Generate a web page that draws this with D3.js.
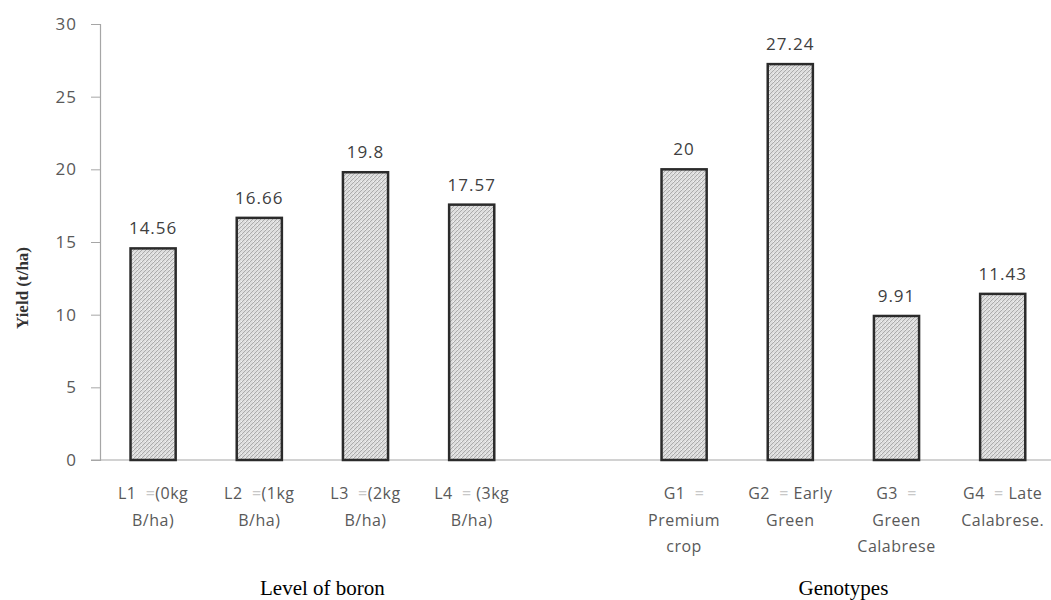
<!DOCTYPE html>
<html>
<head>
<meta charset="utf-8">
<script src="https://cdn.jsdelivr.net/npm/d3@7"></script>
<style>
html,body{margin:0;padding:0;background:#fff;}
</style>
</head>
<body>
<svg id="chart" width="1051" height="600"></svg>
<script>
// ---- data ----
const categories = ["L1", "L2", "L3", "L4", "gap", "G1", "G2", "G3", "G4"];
const values = [14.56, 16.66, 19.8, 17.57, null, 20, 27.24, 9.91, 11.43];
const valueLabels = ["14.56", "16.66", "19.8", "17.57", "", "20", "27.24", "9.91", "11.43"];
const categoryLabels = [
  [["L1  ", "=", "(0kg"], ["B/ha)"]],
  [["L2  ", "=", "(1kg"], ["B/ha)"]],
  [["L3  ", "=", "(2kg"], ["B/ha)"]],
  [["L4  ", "=", " (3kg"], ["B/ha)"]],
  [],
  [["G1  ", "=", ""], ["Premium"], ["crop"]],
  [["G2  ", "=", " Early"], ["Green"]],
  [["G3  ", "=", ""], ["Green"], ["Calabrese"]],
  [["G4  ", "=", " Late"], ["Calabrese."]]
];
const yTicks = [0, 5, 10, 15, 20, 25, 30];
const groupTitles = ["Level of boron", "Genotypes"];
const groupMembers = [["L1", "L2", "L3", "L4"], ["G1", "G2", "G3", "G4"]];
const yTitle = "Yield (t/ha)";

// ---- layout ----
const svg = d3.select("#chart");
const margin = {left: 100, right: 0, top: 24, bottom: 140};
const W = 1051, H = 600;
const x = d3.scaleBand().domain(categories.concat(["end"]))
  .range([margin.left, margin.left + 106.2 * 10]).paddingInner(0.575).paddingOuter(0.2875);
const y = d3.scaleLinear().domain([0, 30]).range([460, 24]);
const sans = "'Open Sans', sans-serif";

// pattern
const defs = svg.append("defs");
const pat = defs.append("pattern").attr("id", "hatch").attr("patternUnits", "userSpaceOnUse")
  .attr("width", 4).attr("height", 4);
pat.append("rect").attr("width", 4).attr("height", 4).attr("fill", "#dedede");
pat.append("path").attr("d", "M-1,1 l2,-2 M0,4 l4,-4 M3,5 l2,-2")
  .attr("stroke", "#ababab").attr("stroke-width", 1);
pat.append("rect").attr("x", 1).attr("y", 1).attr("width", 1).attr("height", 1).attr("fill", "#f4f4f4");

// y axis
const yAxis = svg.append("g").attr("transform", `translate(${margin.left},0)`)
  .call(d3.axisLeft(y).tickValues(yTicks).tickSize(9).tickPadding(14));
yAxis.select(".domain").attr("stroke", "#a6a6a6").attr("stroke-width", 1.2);
yAxis.selectAll(".tick line").attr("stroke", "#a6a6a6");
yAxis.selectAll(".tick text").attr("fill", "#595959")
  .style("font-family", sans).style("font-size", "17px").style("letter-spacing", "1px");

// x axis line
svg.append("line").attr("x1", margin.left - 9).attr("x2", W).attr("y1", y(0)).attr("y2", y(0))
  .attr("stroke", "#a6a6a6").attr("stroke-width", 1.2);

// bars
const data = categories.map((c, i) => ({c, v: values[i], lab: valueLabels[i]})).filter(d => d.v !== null);
svg.append("g").selectAll("rect").data(data).join("rect")
  .attr("x", d => x(d.c)).attr("width", x.bandwidth())
  .attr("y", d => y(d.v)).attr("height", d => y(0) - y(d.v))
  .attr("fill", "url(#hatch)").attr("stroke", "#2b2b2b").attr("stroke-width", 2.5);

// value labels
svg.append("g").selectAll("text").data(data).join("text")
  .attr("x", d => x(d.c) + x.bandwidth() / 2).attr("y", d => y(d.v) - 14)
  .attr("text-anchor", "middle").attr("fill", "#404040")
  .style("font-family", sans).style("font-size", "17px").style("letter-spacing", "1px")
  .text(d => d.lab);

// category labels
const cl = svg.append("g");
categories.forEach((c, i) => {
  const lines = categoryLabels[i];
  lines.forEach((parts, li) => {
    const t = cl.append("text")
      .attr("x", x(c) + x.bandwidth() / 2).attr("y", 499 + li * 26.5)
      .attr("text-anchor", "middle").attr("fill", "#595959")
      .style("font-family", sans).style("font-size", "16px").style("letter-spacing", "0.5px")
      .attr("xml:space", "preserve");
    if (parts.length === 3) {
      t.append("tspan").text(parts[0]);
      t.append("tspan").attr("fill", "#c8c8c8").text(parts[1]);
      t.append("tspan").text(parts[2]);
    } else {
      t.append("tspan").text(parts[0]);
    }
  });
});

// group titles
groupTitles.forEach((g, i) => {
  const mem = groupMembers[i];
  const cx = (x(mem[0]) + x(mem[mem.length - 1]) + x.bandwidth()) / 2;
  svg.append("text").attr("x", cx + (i === 0 ? 10 : 0)).attr("y", 595)
    .attr("text-anchor", "middle").attr("fill", "#000")
    .style("font-family", "'Liberation Serif', 'Times New Roman', serif").style("font-size", "21px")
    .text(g);
});

// y title
svg.append("text").attr("transform", "translate(28,288) rotate(-90)")
  .attr("text-anchor", "middle").attr("fill", "#333")
  .style("font-family", "'Liberation Serif', serif").style("font-size", "17px").style("font-weight", "bold")
  .text(yTitle);
</script>
</body>
</html>
